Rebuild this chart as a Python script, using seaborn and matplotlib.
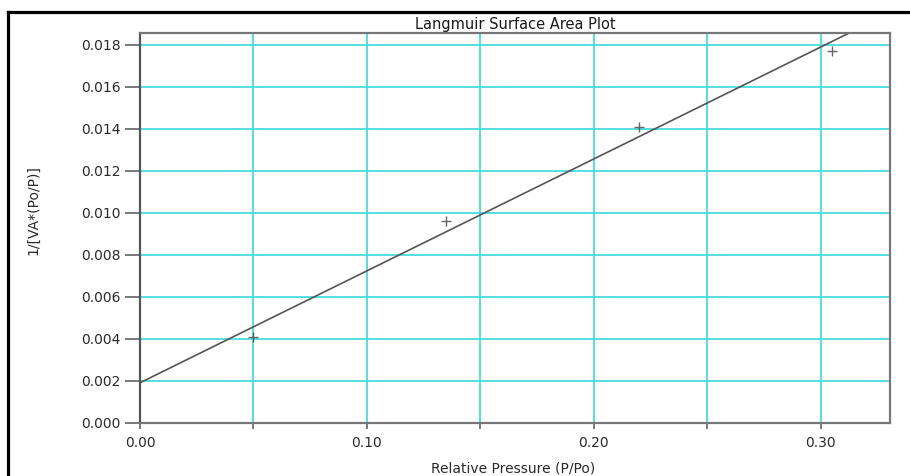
import matplotlib
matplotlib.use("Agg")
import matplotlib.pyplot as plt
from matplotlib.lines import Line2D
from matplotlib.ticker import MultipleLocator
import numpy as np
import seaborn as sns

# ---- data ----
rel_pressure = [0.050, 0.135, 0.220, 0.305]
langmuir_y = [0.0041, 0.0096, 0.0141, 0.0177]
x_ticks = [0.00, 0.10, 0.20, 0.30]
x_tick_labels = ["0.00", "0.10", "0.20", "0.30"]
y_ticks = [0.000, 0.002, 0.004, 0.006, 0.008, 0.010, 0.012, 0.014, 0.016, 0.018]
y_tick_labels = ["0.000", "0.002", "0.004", "0.006", "0.008", "0.010",
                 "0.012", "0.014", "0.016", "0.018"]
title = "Langmuir Surface Area Plot"
x_label = "Relative Pressure (P/Po)"
y_label = "1/[VA*(Po/P)]"

sns.set_style("white")
plt.rcParams["font.family"] = ["DejaVu Sans"]

W, H = 910, 476
fig = plt.figure(figsize=(W / 100, H / 100), dpi=100)
fig.patch.set_facecolor("white")
ax = fig.add_axes([140 / W, 1 - 423 / H, 750 / W, 390 / H])
ax.set_facecolor("white")

ax.set_xlim(0.0, 0.3305)
ax.set_ylim(0.0, 0.01857)

grid_c = "#48dcdc"
ax.xaxis.set_major_locator(MultipleLocator(0.05))
ax.yaxis.set_major_locator(MultipleLocator(0.002))
ax.grid(True, color=grid_c, lw=1.3, zorder=0)
ax.set_axisbelow(True)

sns.regplot(x=rel_pressure, y=langmuir_y, ax=ax, ci=None, truncate=False,
            marker="+",
            scatter_kws=dict(color="#404040", s=45, linewidths=1.0, zorder=3),
            line_kws=dict(color="#555555", lw=1.2, zorder=2))

ax.set_xlim(0.0, 0.3305)
ax.set_ylim(0.0, 0.01857)

# ticks
ax.set_yticks(y_ticks)
ax.set_yticklabels(y_tick_labels)
ax.set_xticks([0.0, 0.05, 0.10, 0.15, 0.20, 0.25, 0.30])
ax.set_xticklabels(["0.00", "", "0.10", "", "0.20", "", "0.30"])
ax.tick_params(axis="y", direction="out", length=11, width=1.1, color="#555555",
               pad=3, labelsize=10, labelcolor="#2a2a2a", left=True)
ax.tick_params(axis="x", direction="out", length=4.5, width=1.1, color="#555555",
               pad=5, labelsize=10, labelcolor="#2a2a2a", bottom=True)

for s in ax.spines.values():
    s.set_visible(True)
    s.set_color("#777777")
    s.set_linewidth(1.6)
ax.spines["left"].set_color("#555555")

ax.set_title(title, fontsize=10.5, color="#1a1a1a", pad=3)
ax.set_xlabel(x_label, fontsize=10, color="#2a2a2a", va="center")
ax.xaxis.set_label_coords(0.497, -(469 - 423) / 390)
ax.set_ylabel(y_label, fontsize=10, color="#2a2a2a", va="center")
ax.yaxis.set_label_coords(-(140 - 33) / 750, (423 - 210) / 390)

# black frame along the top and left of the picture
fig.add_artist(Line2D([8 / W, 8 / W], [-0.05, 1 - 11.7 / H], transform=fig.transFigure,
                      color="black", lw=2.3, solid_capstyle="projecting"))
fig.add_artist(Line2D([8 / W, 1.05], [1 - 11.7 / H, 1 - 11.7 / H], transform=fig.transFigure,
                      color="black", lw=2.3, solid_capstyle="projecting"))

fig.savefig("out.png", dpi=100, facecolor="white")
